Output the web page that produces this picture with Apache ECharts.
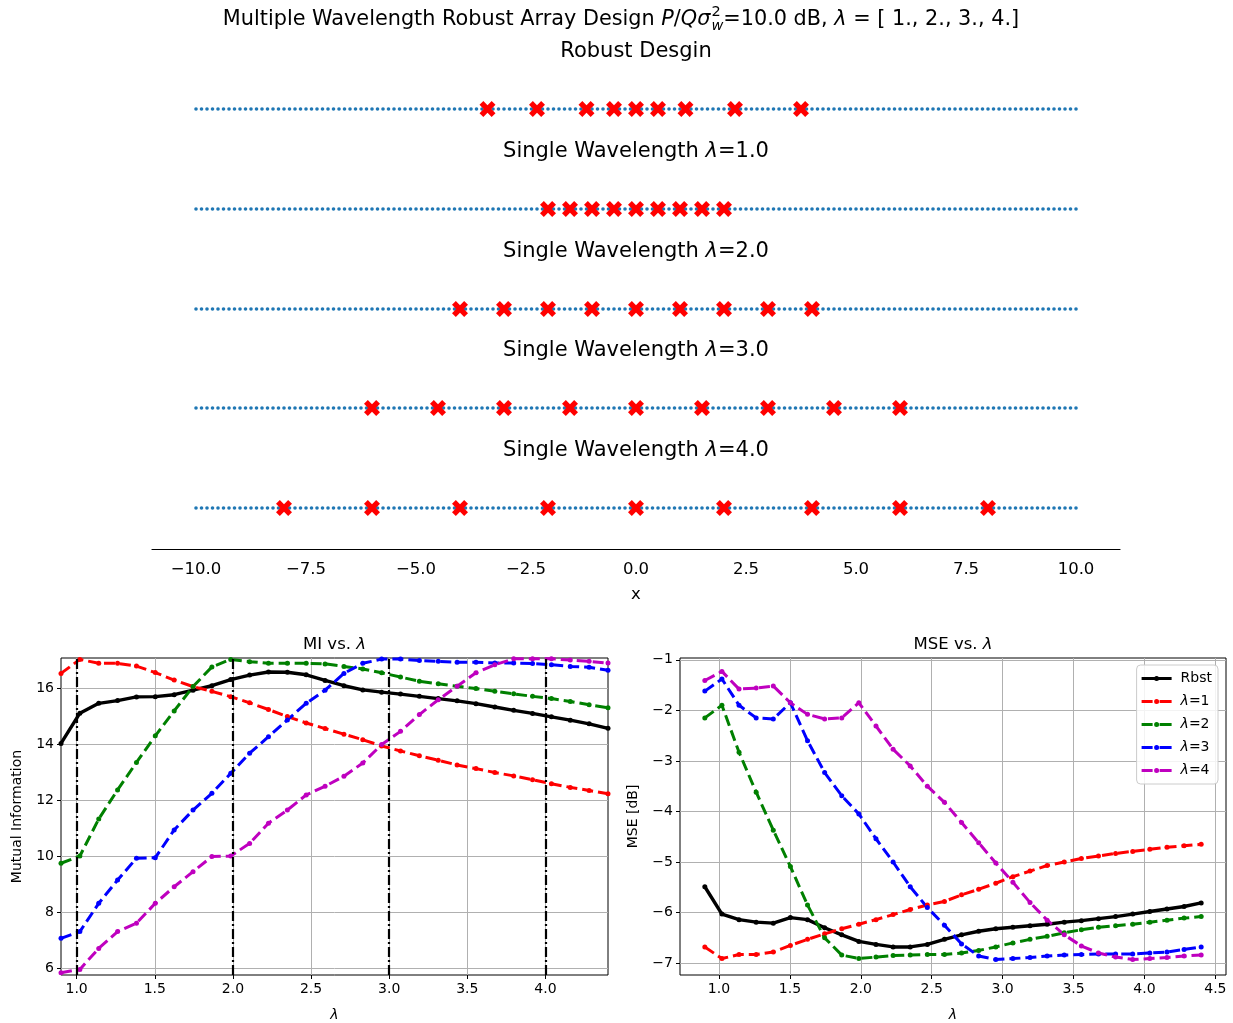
<!DOCTYPE html>
<html>
<head>
<meta charset="utf-8">
<script src="https://cdn.jsdelivr.net/npm/echarts@6/dist/echarts.min.js"></script>
<style>
  html, body { margin: 0; padding: 0; background: #ffffff; }
  #chart { width: 1233px; height: 1023px; }
</style>
</head>
<body>
<div id="chart"></div>
<script>
const FONT = 'DejaVu Sans';

// Candidate element positions on the aperture (x grid)
const candidatePositions = [
  -10,
  -9.875, -9.75, -9.625, -9.5, -9.375, -9.25, -9.125, -9,
  -8.875, -8.75, -8.625, -8.5, -8.375, -8.25, -8.125, -8,
  -7.875, -7.75, -7.625, -7.5, -7.375, -7.25, -7.125, -7,
  -6.875, -6.75, -6.625, -6.5, -6.375, -6.25, -6.125, -6,
  -5.875, -5.75, -5.625, -5.5, -5.375, -5.25, -5.125, -5,
  -4.875, -4.75, -4.625, -4.5, -4.375, -4.25, -4.125, -4,
  -3.875, -3.75, -3.625, -3.5, -3.375, -3.25, -3.125, -3,
  -2.875, -2.75, -2.625, -2.5, -2.375, -2.25, -2.125, -2,
  -1.875, -1.75, -1.625, -1.5, -1.375, -1.25, -1.125, -1,
  -0.875, -0.75, -0.625, -0.5, -0.375, -0.25, -0.125, 0,
  0.125, 0.25, 0.375, 0.5, 0.625, 0.75, 0.875, 1,
  1.125, 1.25, 1.375, 1.5, 1.625, 1.75, 1.875, 2,
  2.125, 2.25, 2.375, 2.5, 2.625, 2.75, 2.875, 3,
  3.125, 3.25, 3.375, 3.5, 3.625, 3.75, 3.875, 4,
  4.125, 4.25, 4.375, 4.5, 4.625, 4.75, 4.875, 5,
  5.125, 5.25, 5.375, 5.5, 5.625, 5.75, 5.875, 6,
  6.125, 6.25, 6.375, 6.5, 6.625, 6.75, 6.875, 7,
  7.125, 7.25, 7.375, 7.5, 7.625, 7.75, 7.875, 8,
  8.125, 8.25, 8.375, 8.5, 8.625, 8.75, 8.875, 9,
  9.125, 9.25, 9.375, 9.5, 9.625, 9.75, 9.875, 10
];

// Selected element positions: robust design, then single-wavelength designs
const robustPositions = [-3.375, -2.25, -1.125, -0.5, 0, 0.5, 1.125, 2.25, 3.75];
const lambda1Positions = [-2, -1.5, -1, -0.5, 0, 0.5, 1, 1.5, 2];
const lambda2Positions = [-4, -3, -2, -1, 0, 1, 2, 3, 4];
const lambda3Positions = [-6, -4.5, -3, -1.5, 0, 1.5, 3, 4.5, 6];
const lambda4Positions = [-8, -6, -4, -2, 0, 2, 4, 6, 8];

const rowTitles = [
  'Robust Desgin',
  'Single Wavelength {i|λ}=1.0',
  'Single Wavelength {i|λ}=2.0',
  'Single Wavelength {i|λ}=3.0',
  'Single Wavelength {i|λ}=4.0'
];
const xTicks = [-10, -7.5, -5, -2.5, 0, 2.5, 5, 7.5, 10];

// Design wavelengths (vertical markers in the MI panel)
const designWavelengths = [1, 2, 3, 4];

// Evaluation wavelengths
const lambdaGrid = [
  0.9, 1.0207, 1.1414, 1.2621, 1.3828, 1.5034, 1.6241, 1.7448, 1.8655, 1.9862,
  2.1069, 2.2276, 2.3483, 2.4690, 2.5897, 2.7103, 2.8310, 2.9517, 3.0724, 3.1931,
  3.3138, 3.4345, 3.5552, 3.6759, 3.7966, 3.9172, 4.0379, 4.1586, 4.2793, 4.4
];

// Mutual information
const miRbst = [14.02, 15.1, 15.45, 15.55, 15.68, 15.69, 15.76, 15.92, 16.08, 16.3,
  16.46, 16.57, 16.56, 16.47, 16.27, 16.08, 15.93, 15.85, 15.78, 15.7,
  15.62, 15.54, 15.44, 15.32, 15.2, 15.09, 14.97, 14.85, 14.72, 14.56];
const miL1 = [16.52, 17.02, 16.88, 16.88, 16.78, 16.55, 16.28, 16.05, 15.88, 15.69,
  15.47, 15.23, 14.98, 14.75, 14.55, 14.35, 14.15, 13.93, 13.75, 13.58,
  13.42, 13.25, 13.12, 12.98, 12.86, 12.72, 12.58, 12.45, 12.34, 12.22];
const miL2 = [9.74, 10.0, 11.32, 12.36, 13.34, 14.29, 15.18, 16.05, 16.75, 17.02,
  16.94, 16.88, 16.88, 16.88, 16.86, 16.77, 16.68, 16.54, 16.39, 16.24,
  16.15, 16.06, 15.98, 15.88, 15.79, 15.7, 15.62, 15.52, 15.4, 15.29];
const miL3 = [7.06, 7.3, 8.31, 9.14, 9.92, 9.94, 10.93, 11.64, 12.24, 12.95,
  13.67, 14.26, 14.86, 15.45, 15.92, 16.52, 16.88, 17.03, 17.03, 16.98,
  16.95, 16.92, 16.92, 16.89, 16.89, 16.87, 16.83, 16.77, 16.74, 16.63];
const miL4 = [5.83, 5.95, 6.7, 7.3, 7.6, 8.31, 8.9, 9.44, 9.98, 10.0,
  10.45, 11.17, 11.64, 12.18, 12.49, 12.85, 13.32, 13.98, 14.45, 15.05,
  15.58, 16.06, 16.54, 16.83, 17.04, 17.04, 17.04, 17.0, 16.95, 16.89];

// MSE [dB]
const mseRbst = [-5.49, -6.03, -6.14, -6.19, -6.21, -6.1, -6.14, -6.3, -6.44, -6.57,
  -6.63, -6.68, -6.68, -6.63, -6.53, -6.44, -6.37, -6.32, -6.29, -6.26,
  -6.23, -6.19, -6.16, -6.12, -6.08, -6.03, -5.98, -5.93, -5.88, -5.81];
const mseL1 = [-6.68, -6.91, -6.83, -6.83, -6.78, -6.65, -6.53, -6.42, -6.32, -6.23,
  -6.14, -6.04, -5.94, -5.85, -5.78, -5.65, -5.54, -5.42, -5.29, -5.18,
  -5.07, -5.0, -4.93, -4.88, -4.83, -4.79, -4.75, -4.71, -4.68, -4.65];
const mseL2 = [-2.15, -1.9, -2.83, -3.62, -4.37, -5.09, -5.85, -6.5, -6.84, -6.91,
  -6.88, -6.85, -6.84, -6.83, -6.83, -6.8, -6.75, -6.68, -6.6, -6.53,
  -6.47, -6.4, -6.34, -6.29, -6.26, -6.23, -6.19, -6.15, -6.11, -6.08];
const mseL3 = [-1.62, -1.38, -1.9, -2.15, -2.17, -1.85, -2.6, -3.23, -3.69, -4.05,
  -4.54, -5.0, -5.49, -5.9, -6.25, -6.62, -6.86, -6.93, -6.91, -6.89,
  -6.86, -6.84, -6.83, -6.82, -6.82, -6.82, -6.8, -6.78, -6.73, -6.68];
const mseL4 = [-1.41, -1.23, -1.58, -1.56, -1.52, -1.85, -2.08, -2.17, -2.15, -1.85,
  -2.31, -2.77, -3.1, -3.5, -3.82, -4.22, -4.62, -5.02, -5.4, -5.8,
  -6.15, -6.44, -6.66, -6.8, -6.88, -6.93, -6.91, -6.89, -6.86, -6.84];

const seriesNames = ['Rbst', 'λ=1', 'λ=2', 'λ=3', 'λ=4'];
const miTicks = [6, 8, 10, 12, 14, 16];
const miLambdaTicks = [1, 1.5, 2, 2.5, 3, 3.5, 4];
const mseTicks = [-7, -6, -5, -4, -3, -2, -1];
const mseLambdaTicks = [1, 1.5, 2, 2.5, 3, 3.5, 4, 4.5];

// ---------- styling ----------
const COLORS = ['#000000', '#ff0000', '#008000', '#0000ff', '#bf00bf'];
const DOT_BLUE = '#1f77b4';
const X_MARK = 'path://M2.4,0L5,2.6L7.6,0L10,2.4L7.4,5L10,7.6L7.6,10L5,7.4L2.4,10L0,7.6L2.6,5L0,2.4Z';
// legend glyphs drawn in a 30 x 5 box: line (solid or dashed) with a dot in the middle
const LEGEND_SOLID = 'path://M0,0.9L30,0.9L30,4.1L0,4.1Z M12.5,2.5a2.5,2.5 0 1,1 5,0a2.5,2.5 0 1,1 -5,0Z';
const LEGEND_DASHED = 'path://M0,1L11,1L11,4L0,4Z M18,1L30,1L30,4L18,4Z M12.5,2.5a2.5,2.5 0 1,1 5,0a2.5,2.5 0 1,1 -5,0Z';
const minusFmt = (digits) => (v) => (v < 0 ? '\u2212' : '') + Math.abs(v).toFixed(digits);

const rowCenters = [109, 209, 309, 408, 508];
const rowPositions = [robustPositions, lambda1Positions, lambda2Positions, lambda3Positions, lambda4Positions];

const grids = [];
const xAxes = [];
const yAxes = [];
const series = [];

rowCenters.forEach((cy, r) => {
  grids.push({ left: 152, width: 968, top: cy - 41, height: 82, outerBoundsMode: 'none' });
  const last = r === rowCenters.length - 1;
  xAxes.push({
    type: 'value', gridIndex: r, min: -11, max: 11, show: last,
    name: last ? 'x' : '', nameLocation: 'middle', nameGap: 37,
    nameTextStyle: { fontSize: 16.5, fontFamily: FONT, color: '#000' },
    axisLine: { show: true, onZero: false, lineStyle: { color: '#000', width: 1.2 } },
    axisTick: { show: false, customValues: xTicks },
    axisLabel: { customValues: xTicks, formatter: minusFmt(1), fontSize: 16.5, fontFamily: FONT, color: '#000', margin: 12 },
    splitLine: { show: false }
  });
  yAxes.push({ type: 'value', gridIndex: r, min: -1, max: 1, show: false });
  series.push({
    type: 'scatter', xAxisIndex: r, yAxisIndex: r, silent: true, z: 2,
    symbol: 'circle', symbolSize: 3.6, itemStyle: { color: DOT_BLUE, opacity: 1 },
    data: candidatePositions.map(x => [x, 0])
  });
  series.push({
    type: 'scatter', xAxisIndex: r, yAxisIndex: r, silent: true, z: 3,
    symbol: X_MARK, symbolSize: 16, itemStyle: { color: '#ff0000', opacity: 1 },
    data: rowPositions[r].map(x => [x, 0])
  });
});

// bottom panels
const axisCommon = {
  axisLine: { show: false },
  axisTick: { show: true, length: 4, lineStyle: { color: '#000', width: 1 } },
  splitLine: { show: true, lineStyle: { color: '#b0b0b0', width: 1 } }
};
const labelCommon = { fontSize: 14, fontFamily: FONT, color: '#000' };

const MI = rowCenters.length;      // grid index of the MI panel
const MSE = MI + 1;                // grid index of the MSE panel
grids.push({ left: 61, top: 658, width: 547, height: 317, show: true, borderColor: '#000', borderWidth: 1, backgroundColor: 'transparent', outerBoundsMode: 'none' });
grids.push({ left: 680, top: 658, width: 546, height: 317, show: true, borderColor: '#000', borderWidth: 1, backgroundColor: 'transparent', outerBoundsMode: 'none' });

xAxes.push(Object.assign({
  type: 'value', gridIndex: MI, min: 0.9, max: 4.4,
  name: 'λ', nameLocation: 'middle', nameGap: 33,
  nameTextStyle: { fontSize: 14, fontFamily: FONT, fontStyle: 'italic', color: '#000' },
  axisLabel: Object.assign({ customValues: miLambdaTicks, formatter: v => v.toFixed(1), margin: 7 }, labelCommon)
}, axisCommon, { axisTick: Object.assign({ customValues: miLambdaTicks }, axisCommon.axisTick) }));
yAxes.push(Object.assign({
  type: 'value', gridIndex: MI, min: 5.75, max: 17.07,
  name: 'Mutual Information', nameLocation: 'middle', nameGap: 37, nameRotate: 90,
  nameTextStyle: { fontSize: 14, fontFamily: FONT, color: '#000' },
  axisLabel: Object.assign({ customValues: miTicks, formatter: v => String(v), margin: 7 }, labelCommon)
}, axisCommon, { axisTick: Object.assign({ customValues: miTicks }, axisCommon.axisTick) }));

xAxes.push(Object.assign({
  type: 'value', gridIndex: MSE, min: 0.725, max: 4.575,
  name: 'λ', nameLocation: 'middle', nameGap: 33,
  nameTextStyle: { fontSize: 14, fontFamily: FONT, fontStyle: 'italic', color: '#000' },
  axisLabel: Object.assign({ customValues: mseLambdaTicks, formatter: v => v.toFixed(1), margin: 7 }, labelCommon)
}, axisCommon, { axisTick: Object.assign({ customValues: mseLambdaTicks }, axisCommon.axisTick) }));
yAxes.push(Object.assign({
  type: 'value', gridIndex: MSE, min: -7.235, max: -0.965,
  name: 'MSE [dB]', nameLocation: 'middle', nameGap: 40, nameRotate: 90,
  nameTextStyle: { fontSize: 14, fontFamily: FONT, color: '#000' },
  axisLabel: Object.assign({ customValues: mseTicks, formatter: minusFmt(0), margin: 7 }, labelCommon)
}, axisCommon, { axisTick: Object.assign({ customValues: mseTicks }, axisCommon.axisTick) }));

const miData = [miRbst, miL1, miL2, miL3, miL4];
const mseData = [mseRbst, mseL1, mseL2, mseL3, mseL4];

function curve(name, idx, axisIdx, values) {
  return {
    type: 'line', name: name, xAxisIndex: axisIdx, yAxisIndex: axisIdx,
    data: lambdaGrid.map((x, i) => [x, values[i]]),
    symbol: 'circle', symbolSize: 5, showSymbol: true, silent: true,
    itemStyle: { color: COLORS[idx], opacity: 1 },
    lineStyle: { color: COLORS[idx], width: idx === 0 ? 3.4 : 3, type: idx === 0 ? 'solid' : [11, 5] },
    z: 3
  };
}

seriesNames.forEach((n, k) => series.push(curve(n, k, MI, miData[k])));
seriesNames.forEach((n, k) => series.push(curve(n, k, MSE, mseData[k])));

// vertical dash-dot markers at the design wavelengths
series.push({
  type: 'line', xAxisIndex: MI, yAxisIndex: MI, data: [], silent: true, z: 5,
  markLine: {
    silent: true, symbol: ['none', 'none'], label: { show: false }, animation: false,
    lineStyle: { color: '#000', width: 2.2, type: [10, 3, 2, 3] },
    emphasis: { disabled: true },
    data: designWavelengths.map(v => ({ xAxis: v }))
  }
});

// ---------- titles ----------
const graphics = [];
const titleY = [52, 152, 252, 351, 451];
rowTitles.forEach((t, r) => {
  graphics.push({
    type: 'text', x: 636, y: titleY[r], silent: true,
    style: {
      text: t, fontSize: 21, fontFamily: FONT, fill: '#000', align: 'center', verticalAlign: 'middle',
      rich: { i: { fontStyle: 'italic', fontSize: 21, fontFamily: FONT, fill: '#000' } }
    }
  });
});
[['MI vs. {i|λ}', 334.5], ['MSE vs. {i|λ}', 953]].forEach(([t, cx]) => {
  graphics.push({
    type: 'text', x: cx, y: 645, silent: true,
    style: {
      text: t, fontSize: 16.5, fontFamily: FONT, fill: '#000', align: 'center', verticalAlign: 'middle',
      rich: { i: { fontStyle: 'italic', fontSize: 16.5, fontFamily: FONT, fill: '#000' } }
    }
  });
});

// figure title with math-style pieces (italic symbols, stacked sub/superscript)
(function buildSuptitle() {
  const ctx = document.createElement('canvas').getContext('2d');
  const SZ = 20.8, SUB = 14.5;
  const fontOf = (it, sz) => (it ? 'italic ' : '') + sz + 'px "' + FONT + '"';
  const pieces = [
    { t: 'Multiple Wavelength Robust Array Design ', it: false },
    { t: 'P', it: true },
    { t: '/', it: false },
    { t: 'Qσ', it: true },
    { sup: '2', sub: 'w' },
    { t: '=10.0 dB, ', it: false },
    { t: 'λ', it: true },
    { t: ' = [ 1., 2., 3., 4.]', it: false }
  ];
  pieces.forEach(p => {
    if (p.sup) {
      ctx.font = fontOf(false, SUB); const a = ctx.measureText(p.sup).width;
      ctx.font = fontOf(true, SUB); const b = ctx.measureText(p.sub).width;
      p.w = Math.max(a, b) + 1;
    } else {
      ctx.font = fontOf(p.it, SZ); p.w = ctx.measureText(p.t).width;
    }
  });
  const total = pieces.reduce((s, p) => s + p.w, 0);
  let x = 621 - total / 2;
  const y0 = 20;
  pieces.forEach(p => {
    if (p.sup) {
      graphics.push({ type: 'text', x: x + 1, y: y0 - 8, silent: true,
        style: { text: p.sup, fontSize: SUB, fontFamily: FONT, fill: '#000', align: 'left', verticalAlign: 'middle' } });
      graphics.push({ type: 'text', x: x + 1, y: y0 + 6, silent: true,
        style: { text: p.sub, fontSize: SUB, fontFamily: FONT, fontStyle: 'italic', fill: '#000', align: 'left', verticalAlign: 'middle' } });
    } else {
      graphics.push({ type: 'text', x: x, y: y0, silent: true,
        style: { text: p.t, fontSize: SZ, fontFamily: FONT, fontStyle: p.it ? 'italic' : 'normal', fill: '#000', align: 'left', verticalAlign: 'middle' } });
    }
    x += p.w;
  });
})();

const chart = echarts.init(document.getElementById('chart'), null, { renderer: 'canvas' });
chart.setOption({
  backgroundColor: '#ffffff',
  animation: false,
  textStyle: { fontFamily: FONT },
  grid: grids,
  xAxis: xAxes,
  yAxis: yAxes,
  series: series,
  graphic: graphics,
  legend: {
    data: seriesNames.map((n, k) => ({ name: n, icon: k === 0 ? LEGEND_SOLID : LEGEND_DASHED })),
    selectedMode: false,
    orient: 'vertical', right: 15, top: 665,
    itemWidth: 30, itemHeight: 5, itemGap: 8,
    padding: [6, 6, 6, 5],
    backgroundColor: 'rgba(255,255,255,0.85)', borderColor: '#cccccc', borderWidth: 1, borderRadius: 4,
    formatter: n => n.replace('λ', '{i|λ}'),
    textStyle: {
      fontSize: 14, lineHeight: 15, fontFamily: FONT, color: '#000', padding: [0, 0, 0, 4],
      rich: { i: { fontStyle: 'italic', fontSize: 14, lineHeight: 15, fontFamily: FONT, color: '#000' } }
    }
  }
});
</script>
</body>
</html>
